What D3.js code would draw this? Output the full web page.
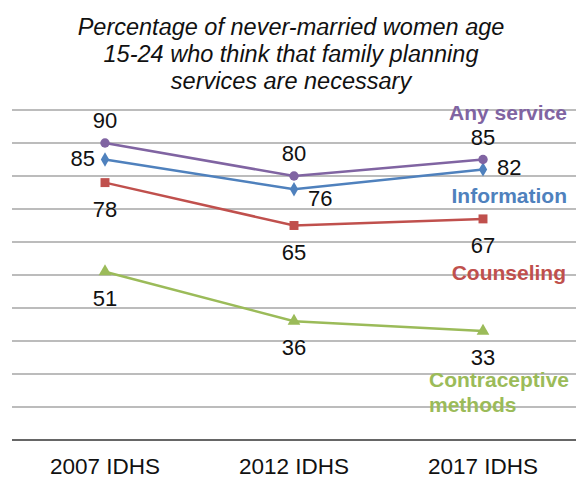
<!DOCTYPE html>
<html>
<head>
<meta charset="utf-8">
<script src="https://cdn.jsdelivr.net/npm/d3@7"></script>
<style>
  body { margin: 0; background: #fff; }
  svg { display: block; font-family: "Liberation Sans", Arial, sans-serif; }
</style>
</head>
<body>
<svg id="chart" width="576" height="479"></svg>
<script>
const surveys = ["2007 IDHS", "2012 IDHS", "2017 IDHS"];
const anyService = [90, 80, 85];
const information = [85, 76, 82];
const counseling = [78, 65, 67];
const contraceptive = [51, 36, 33];
const yTicks = [0, 10, 20, 30, 40, 50, 60, 70, 80, 90, 100];

// where each value label sits relative to its marker
const labelPlace = {
  any: ["above", "above", "above"],
  info: ["left", "lowright", "right"],
  couns: ["below", "below", "below"],
  contra: ["below", "below", "below"]
};

const W = 576, H = 479;
const svg = d3.select("#chart");

const x = d3.scalePoint().domain(surveys).range([10.5, 577.5]).padding(0.5);
const y = d3.scaleLinear().domain([0, 100]).range([440, 110]);

// title
const title = ["Percentage of never-married women age", "15-24 who think that family planning", "services are necessary"];
svg.append("g").selectAll("text").data(title).join("text")
  .attr("x", 291).attr("y", (d, i) => 35 + i * 27)
  .attr("text-anchor", "middle")
  .style("font-size", "23.5px").style("font-style", "italic").style("fill", "#111")
  .text(d => d);

// gridlines
svg.append("g").selectAll("line").data(yTicks.slice(1)).join("line")
  .attr("x1", 12).attr("x2", 576)
  .attr("y1", d => y(d)).attr("y2", d => y(d))
  .attr("stroke", "#a6a6a6").attr("stroke-width", 1.5);

// x axis
svg.append("line")
  .attr("x1", 12).attr("x2", 576).attr("y1", y(0)).attr("y2", y(0))
  .attr("stroke", "#333").attr("stroke-width", 1.5);

svg.append("g").selectAll("text").data(surveys).join("text")
  .attr("x", d => x(d)).attr("y", 474)
  .attr("text-anchor", "middle")
  .style("font-size", "22.5px").style("fill", "#111")
  .text(d => d);

const series = [
  { key: "contra", values: contraceptive, color: "#9bbb59", marker: d3.symbolTriangle, size: 70 },
  { key: "couns", values: counseling, color: "#c0504d", marker: d3.symbolSquare, size: 80 },
  { key: "info", values: information, color: "#4f81bd", marker: d3.symbolDiamond, size: 60 },
  { key: "any", values: anyService, color: "#8064a2", marker: d3.symbolCircle, size: 70 }
];

const line = d3.line().x((d, i) => x(surveys[i])).y(d => y(d));

series.forEach(s => {
  const g = svg.append("g");
  g.append("path").datum(s.values)
    .attr("d", line).attr("fill", "none")
    .attr("stroke", s.color).attr("stroke-width", 2.5);
  g.selectAll("path.m").data(s.values).join("path").attr("class", "m")
    .attr("transform", (d, i) => `translate(${x(surveys[i])},${y(d)})`)
    .attr("d", d3.symbol().type(s.marker).size(s.size))
    .attr("fill", s.color);

  const place = labelPlace[s.key];
  g.selectAll("text").data(s.values).join("text")
    .attr("x", (d, i) => {
      const p = place[i], cx = x(surveys[i]);
      if (p === "left") return cx - 10;
      if (p === "right" || p === "lowright") return cx + 14;
      return cx;
    })
    .attr("y", (d, i) => {
      const p = place[i], cy = y(d);
      if (p === "above") return cy - 15;
      if (p === "below") return cy + 34;
      if (p === "lowright") return cy + 17;
      return cy + 6;
    })
    .attr("text-anchor", (d, i) => place[i] === "left" ? "end" : (place[i] === "above" || place[i] === "below") ? "middle" : "start")
    .style("font-size", "22px").style("fill", "#111")
    .text(d => d);
});

// series names
const names = [
  { lines: ["Any service"], color: "#8064a2", x: 567, y: 120, anchor: "end" },
  { lines: ["Information"], color: "#4f81bd", x: 567, y: 203, anchor: "end" },
  { lines: ["Counseling"], color: "#c0504d", x: 566, y: 280, anchor: "end" },
  { lines: ["Contraceptive", "methods"], color: "#9bbb59", x: 429, y: 387, anchor: "start" }
];
names.forEach(n => {
  svg.append("g").selectAll("text").data(n.lines).join("text")
    .attr("x", n.x).attr("y", (d, i) => n.y + i * 25)
    .attr("text-anchor", n.anchor)
    .style("font-size", "21px").style("font-weight", "bold").style("fill", n.color)
    .text(d => d);
});
</script>
</body>
</html>
